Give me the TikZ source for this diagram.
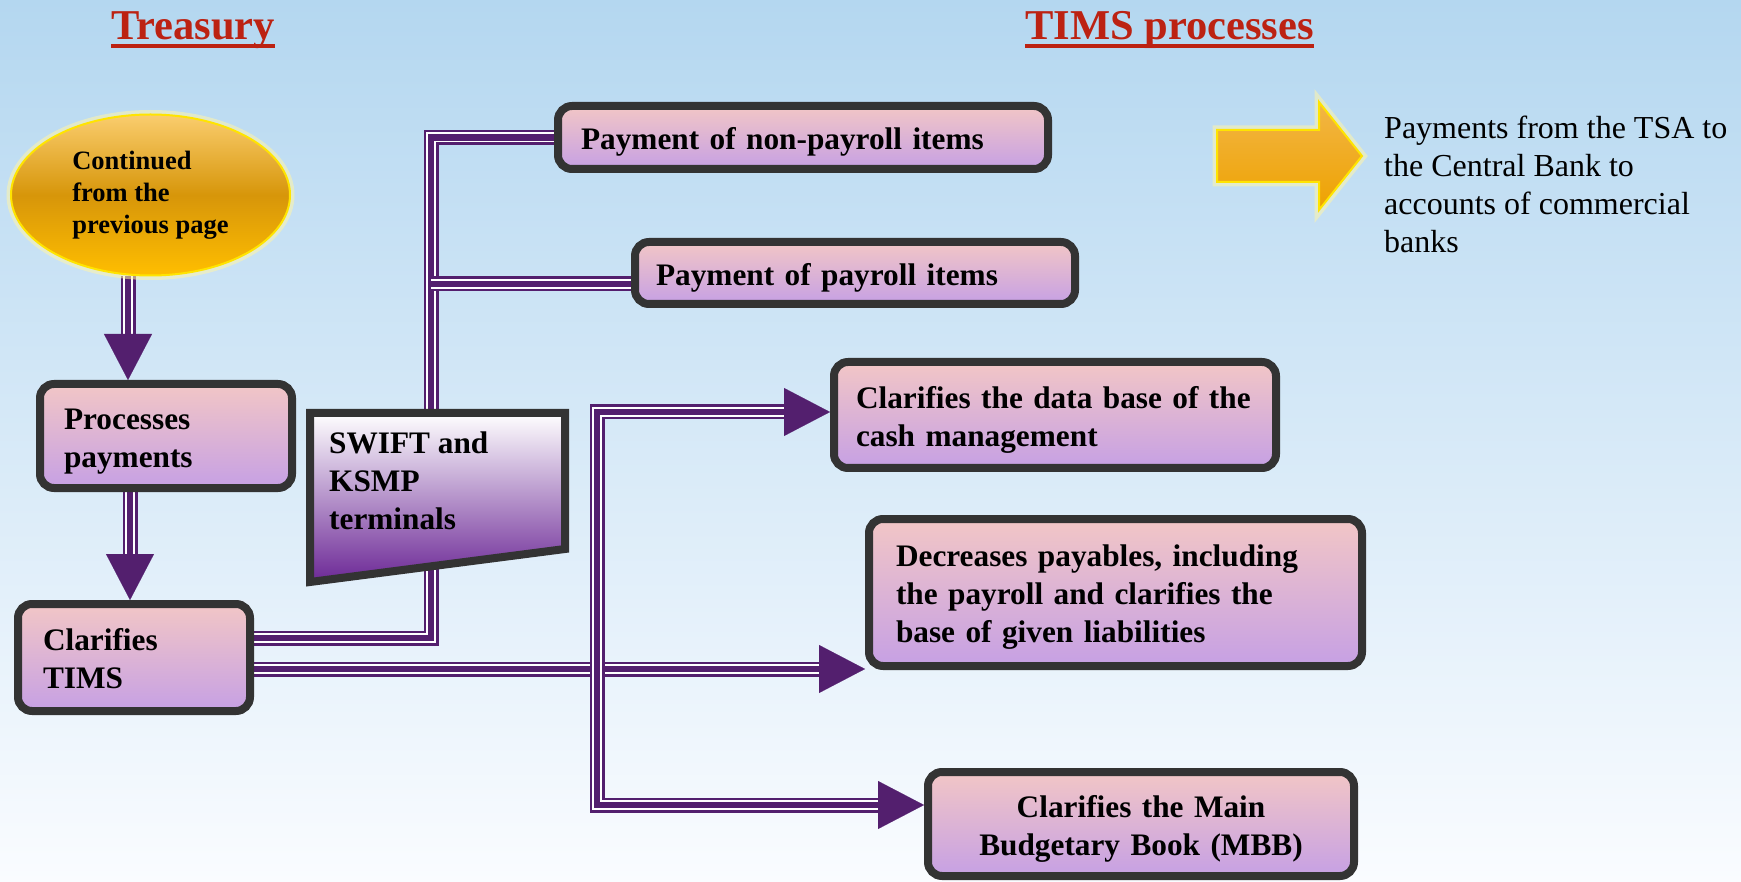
\documentclass[tikz,border=0pt]{standalone}
\usepackage{fontspec}
\setmainfont{Liberation Serif}
\usetikzlibrary{shapes.geometric,arrows.meta,calc,backgrounds}

\definecolor{purp}{RGB}{83,31,110}
\definecolor{edge}{RGB}{51,51,51}
\definecolor{boxtop}{RGB}{242,198,198}
\definecolor{boxbot}{RGB}{198,160,228}
\definecolor{bgtop}{RGB}{180,215,240}
\definecolor{bgbot}{RGB}{250,252,255}
\definecolor{ortop}{RGB}{250,205,110}
\definecolor{ormid}{RGB}{215,150,10}
\definecolor{orbot}{RGB}{255,190,0}
\definecolor{artop}{RGB}{242,182,70}
\definecolor{armid}{RGB}{216,150,10}
\definecolor{arbot}{RGB}{238,162,0}
\definecolor{goldedge}{RGB}{255,228,0}
\definecolor{glow}{RGB}{255,245,170}
\definecolor{titlered}{RGB}{188,34,18}
\definecolor{swiftbot}{RGB}{108,40,150}

% invisible strut giving every text line the full ascent and descent of the font
\newcommand\linestrut{\rule[-0.22em]{0pt}{1.21em}}

\begin{document}
\begin{tikzpicture}[x=1pt,y=-1pt,
  % compound purple line: thin - thick - thin
  tri/.style={draw=purp, line width=15pt, line join=miter,
    postaction={draw=white, line width=10pt},
    postaction={draw=purp, line width=6.2pt}},
  triarrow/.style={tri, shorten >=44pt,
    postaction={draw=purp, line width=0.1pt, shorten >=0pt,
      -{Triangle[length=46pt,width=48pt]}}},
  box/.style={rectangle, rounded corners=14pt, draw=edge, line width=8pt,
    top color=boxtop, bottom color=boxbot,
    font=\fontsize{31.3}{38}\selectfont\bfseries, align=left, inner ysep=0pt,
    execute at begin node=\linestrut, execute at end node=\linestrut},
  title/.style={font=\fontsize{42.5}{48}\selectfont\bfseries, text=titlered, inner sep=0pt},
  underl/.style={draw=titlered, line width=4pt},
  glowing/.style={preaction={draw=glow, line width=9pt, opacity=0.55}},
]
\useasboundingbox (0,0) rectangle (1741,882);

% titles
\node[title, anchor=base west] (tTreas) at (111,40) {Treasury};
\draw[underl] ([yshift=-6pt]tTreas.base west) -- ([yshift=-6pt]tTreas.base east);
\node[title, anchor=base west] (tTims) at (1025,40) {TIMS processes};
\draw[underl] ([yshift=-6pt]tTims.base west) -- ([yshift=-6pt]tTims.base east);

% start ellipse
\node[ellipse, glowing, draw=goldedge, line width=2pt, top color=ortop, bottom color=orbot,
  middle color=ormid, minimum width=279pt, minimum height=161pt, inner sep=0pt,
  align=left, font=\fontsize{26.5}{32}\selectfont\bfseries]
  (ell) at (150.5,195) {Continued\\from the\\previous page};

% process boxes
\node[box, minimum width=252pt, minimum height=104pt, text width=204pt, inner xsep=24pt]
  (proc) at (166,436) {Processes\\payments};
\node[box, minimum width=232pt, minimum height=107pt, text width=182pt, inner xsep=25pt]
  (clar) at (134,657.5) {Clarifies\\TIMS};
\node[box, minimum width=490pt, minimum height=63pt, text width=444pt, inner xsep=23pt]
  (nonpay) at (803,137.5) {Payment of non-payroll items};
\node[box, minimum width=440pt, minimum height=62pt, text width=398pt, inner xsep=21pt]
  (payroll) at (855,273) {Payment of payroll items};
\node[box, minimum width=442pt, minimum height=106pt, text width=398pt, inner xsep=22pt]
  (db) at (1055,415) {\mbox{Clarifies the data base of the}\\cash management};
\node[box, minimum width=493pt, minimum height=147pt, text width=439pt, inner xsep=27pt]
  (dec) at (1115.5,592.5) {Decreases payables, including\\the payroll and clarifies the\\base of given liabilities};
\node[box, minimum width=426pt, minimum height=104pt, text width=386pt, inner xsep=20pt, align=center]
  (mbb) at (1141,824) {Clarifies the Main\\Budgetary Book (MBB)};

% terminals block
\path[draw=edge, line width=8pt, line join=miter, top color=white, bottom color=swiftbot]
  (310,413) -- (565,413) -- (565,549) -- (310,582) -- cycle;
\node[anchor=north west, inner sep=0pt, align=left, font=\fontsize{31.3}{38}\selectfont\bfseries]
  (swift) at (329,432) {SWIFT and\\KSMP\\terminals};

% legend arrow and note
\path[glowing, draw=goldedge, line width=2pt, top color=artop, middle color=armid, bottom color=arbot]
  (1217,130) -- (1319,130) -- (1319,102) -- (1362,156) -- (1319,210) -- (1319,182) -- (1217,182) -- cycle;
\node[anchor=north west, inner sep=0pt, align=left, font=\fontsize{32}{38}\selectfont]
  (note) at (1384,116) {Payments from the TSA to\\the Central Bank to\\accounts of commercial\\banks};

\begin{scope}[on background layer]
  \shade[top color=bgtop, bottom color=bgbot] (0,0) rectangle (1741,882);

  \coordinate (a1) at (128,0);
  \coordinate (a2) at (130,0);
  \draw[triarrow] (ell.south -| a1) -- (proc.north -| a1);
  \draw[triarrow] (proc.south -| a2) -- (clar.north -| a2);

  % upper branch through the terminals
  \coordinate (clarOutA) at ([yshift=19.5pt]clar.east);
  \coordinate (busA) at (431,400);
  \draw[tri] (clarOutA) -| (busA) |- (nonpay.west);
  \coordinate (payIn) at ([yshift=-11pt]payroll.west);
  \draw[tri] (busA |- payIn) -- (payIn);

  % lower branch
  \coordinate (clarOutB) at ([yshift=-11.5pt]clar.east);
  \draw[triarrow] (clarOutB) -- (dec.west |- clarOutB);
  \coordinate (busB) at (597,669);
  \draw[triarrow] (busB) |- ([yshift=3pt]db.west);
  \draw[triarrow] (busB) |- ([yshift=19pt]mbb.west);
\end{scope}
\end{tikzpicture}
\end{document}
